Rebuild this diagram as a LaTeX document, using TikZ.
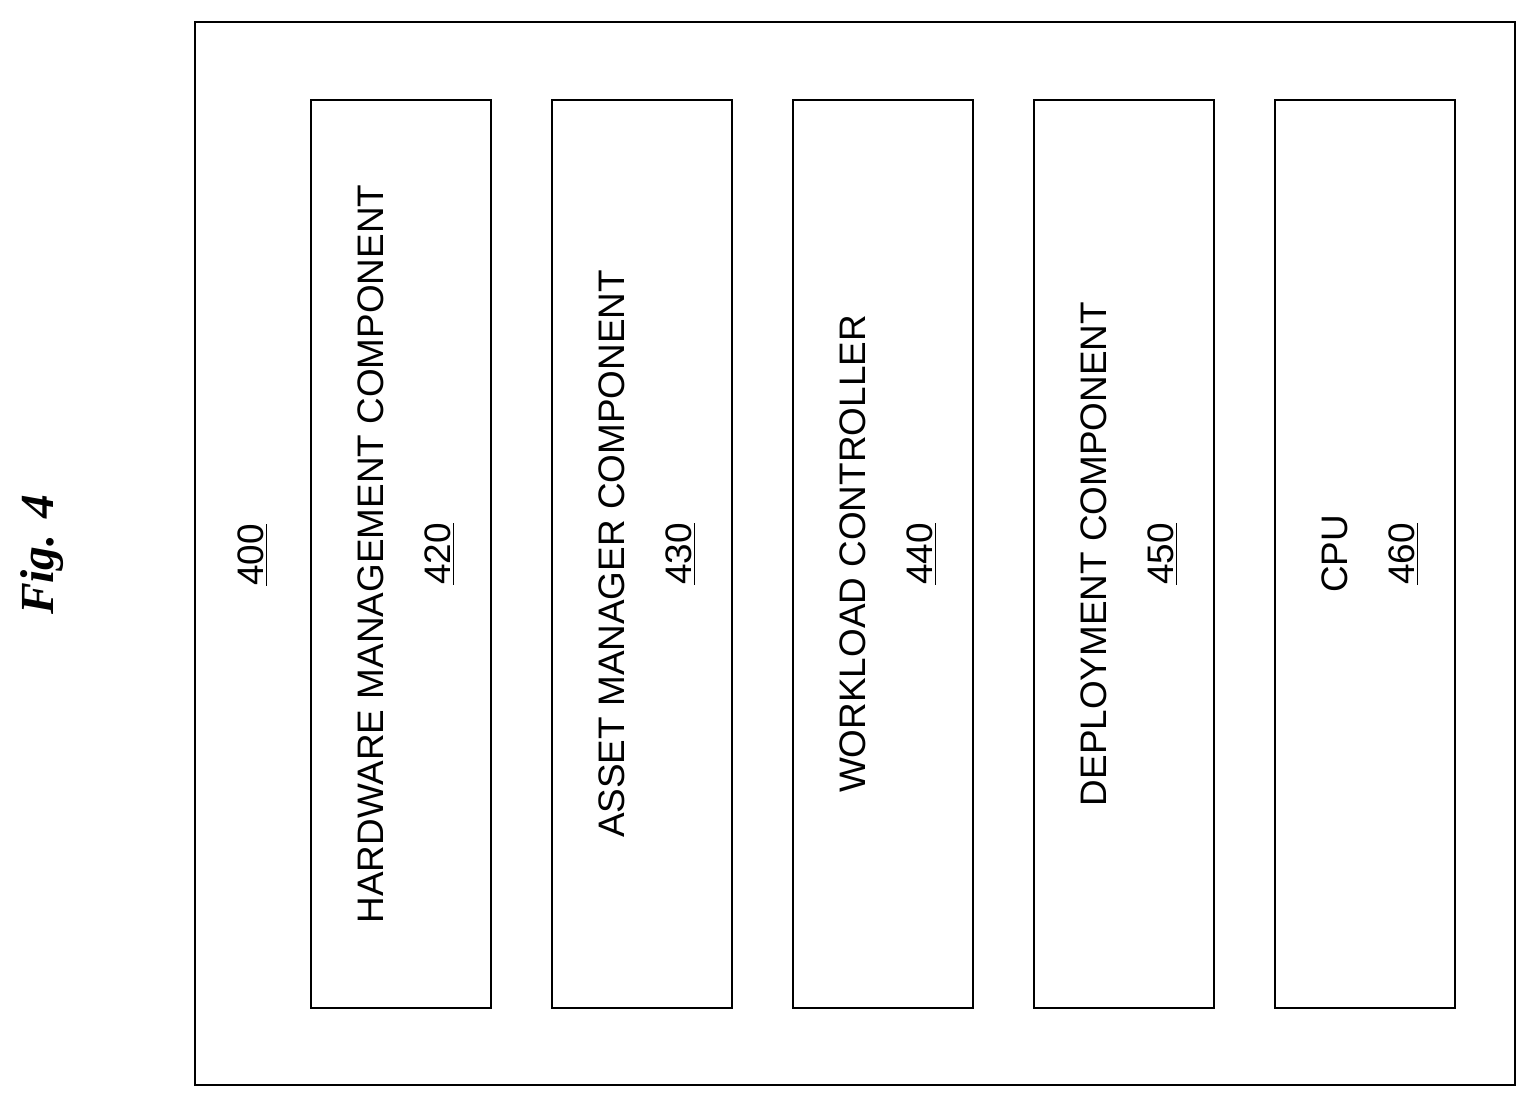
\documentclass[tikz,border=0pt]{standalone}
\usepackage{fontspec}
\setmainfont{Liberation Sans}
\newfontfamily\figfont{Liberation Serif}
\usepackage{tikz}

\begin{document}
\begin{tikzpicture}[x=0.02cm,y=-0.02cm,
  compbox/.style={draw,line width=1.6pt},
  complabel/.style={rotate=90,align=center,font=\fontsize{21}{38}\selectfont}]
\useasboundingbox (0,0) rectangle (1538,1108);
\draw[line width=1.6pt] (195,22) rectangle (1515,1085);
\node (Fig) at (42,555) {\rotatebox{90}{\figfont\fontsize{27}{30}\selectfont\bfseries\itshape Fig. 4}};
\node[complabel] (n400) at (253,555) {\underline{400}};

\draw[compbox] (311,100) rectangle (491,1008);
\node[complabel] (n420) at (406,554) {HARDWARE MANAGEMENT COMPONENT\\\underline{420}};

\draw[compbox] (552,100) rectangle (732,1008);
\node[complabel] (n430) at (647,554) {ASSET MANAGER COMPONENT\\\underline{430}};

\draw[compbox] (793,100) rectangle (973,1008);
\node[complabel] (n440) at (888,554) {WORKLOAD CONTROLLER\\\underline{440}};

\draw[compbox] (1034,100) rectangle (1214,1008);
\node[complabel] (n450) at (1129,554) {DEPLOYMENT COMPONENT\\\underline{450}};

\draw[compbox] (1275,100) rectangle (1455,1008);
\node[complabel] (n460) at (1370,554) {CPU\\\underline{460}};
\end{tikzpicture}
\end{document}
